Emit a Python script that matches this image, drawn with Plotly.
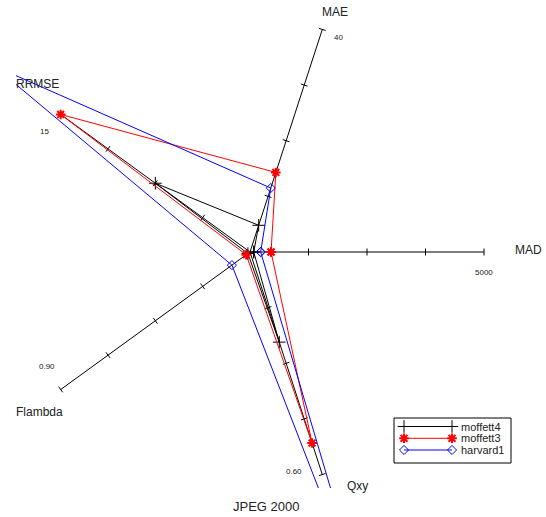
import math
import plotly.graph_objects as go

# ---------------- data ----------------
axis_names = ["MAD", "MAE", "RRMSE", "Flambda", "Qxy"]
axis_max = [5000, 40, 15, 0.90, 0.60]
axis_max_labels = ["5000", "40", "15", "0.90", "0.60"]

series_names = ["moffett4", "moffett3", "harvard1"]
moffett4 = [80, 4.8, 7.5, 0.010, 0.243]
moffett3 = [450, 14.3, 15.0, 0.018, 0.515]
harvard1 = [228, 11.5, 20.3, 0.086, 0.99]
series_values = [moffett4, moffett3, harvard1]

title_text = "JPEG 2000"

# ---------------- style / geometry ----------------
W, H = 546, 517
CX, CY, S = 250.0, 252.0, 234.0          # centre (px) and axis length (px)
L, R, T, B = 16, 6, 5, 29                 # margins (px)
FONT = "Liberation Sans, Arial, Helvetica, sans-serif"

colors = ["black", "red", "blue"]
markers = [dict(symbol="cross-thin", size=9, line=dict(width=1, color="black")),
           dict(symbol="asterisk", size=8, line=dict(width=2, color="red")),
           dict(symbol="diamond-open", size=7, line=dict(width=1, color="blue"))]

n = len(axis_names)
angles = [2 * math.pi * i / n for i in range(n)]
ux = [math.cos(a) for a in angles]
uy = [math.sin(a) for a in angles]

x_range = [(L - CX) / S, (W - R - CX) / S]
y_range = [(CY - (H - B)) / S, (CY - T) / S]

fig = go.Figure()

# axes with ticks
ax_x, ax_y = [], []
h = 3.5 / S
for i in range(n):
    ax_x += [0, ux[i], None]
    ax_y += [0, uy[i], None]
    nx, ny = -uy[i], ux[i]
    for k in range(1, 5):
        f = k / 4
        px, py = f * ux[i], f * uy[i]
        ax_x += [px - h * nx, px + h * nx, None]
        ax_y += [py - h * ny, py + h * ny, None]
fig.add_trace(go.Scatter(x=ax_x, y=ax_y, mode="lines",
                         line=dict(color="black", width=1),
                         hoverinfo="skip", showlegend=False))

# series polygons
for name, vals, col, mk in zip(series_names, series_values, colors, markers):
    fr = [v / m for v, m in zip(vals, axis_max)]
    xs = [fr[i] * ux[i] for i in range(n)] + [fr[0] * ux[0]]
    ys = [fr[i] * uy[i] for i in range(n)] + [fr[0] * uy[0]]
    fig.add_trace(go.Scatter(x=xs, y=ys, mode="lines+markers", name=name,
                             line=dict(color=col, width=1),
                             marker=dict(color=col, **mk), showlegend=False))

# labels
name_shift = [(44, 2), (13, 17), (-23, 30), (-21, -22), (35, -11)]
val_shift = [(0, -20), (16, -8), (-16, -17), (-14, 23), (-28, 3)]
for i in range(n):
    fig.add_annotation(x=ux[i], y=uy[i], text=axis_names[i], showarrow=False,
                       xshift=name_shift[i][0], yshift=name_shift[i][1],
                       font=dict(family=FONT, size=12, color="#222"))
    fig.add_annotation(x=ux[i], y=uy[i], text=axis_max_labels[i], showarrow=False,
                       xshift=val_shift[i][0], yshift=val_shift[i][1],
                       font=dict(family=FONT, size=8, color="#222"))

fig.add_annotation(xref="paper", yref="paper", x=(266 - L) / (W - L - R),
                   y=((H - B) - 506) / (H - T - B), text=title_text,
                   showarrow=False, yanchor="middle",
                   font=dict(family=FONT, size=13, color="#222"))

# custom legend (pixel coordinates on overlay axes)
leg_box = (394, 418, 511, 463)
row_y = [426.5, 438.3, 450.0]
sx0, sx1, tx = 404, 452, 459
for name, col, mk, yy in zip(series_names, colors, markers, row_y):
    fig.add_trace(go.Scatter(x=[sx0, sx1], y=[yy, yy], xaxis="x2", yaxis="y2",
                             mode="lines+markers", line=dict(color=col, width=1),
                             marker=dict(color=col, **mk), hoverinfo="skip",
                             showlegend=False))
    fig.add_annotation(xref="x2", yref="y2", x=tx, y=yy, text=name, showarrow=False,
                       xanchor="left", yanchor="middle",
                       font=dict(family=FONT, size=11, color="#222"))
fig.add_shape(type="rect", xref="x2", yref="y2", x0=leg_box[0], y0=leg_box[1],
              x1=leg_box[2], y1=leg_box[3], line=dict(color="black", width=1))

hidden = dict(visible=False, showgrid=False, zeroline=False, fixedrange=True)
fig.update_layout(
    width=W, height=H, margin=dict(l=L, r=R, t=T, b=B),
    paper_bgcolor="white", plot_bgcolor="white", showlegend=False,
    xaxis=dict(range=x_range, **hidden),
    yaxis=dict(range=y_range, **hidden),
    xaxis2=dict(range=[L, W - R], overlaying="x", **hidden),
    yaxis2=dict(range=[H - B, T], overlaying="y", **hidden),
)

fig.write_html("out.html", config={"displayModeBar": False},
               post_script="document.body.style.margin='0';document.body.style.overflow='hidden';")
